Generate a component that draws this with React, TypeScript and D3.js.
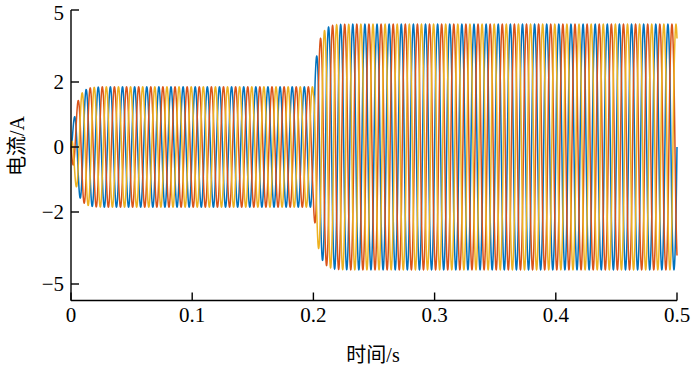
import React, { useEffect, useRef } from 'react';
import * as d3 from 'd3';

// three phase currents
const phaseNames = ['A', 'B', 'C'];
const phaseColors = ['#0072BD', '#D95319', '#EDB120'];
const phaseShiftsDeg = [0, -120, 120];
const freqHz = 100;
// amplitude steps: [start time, amplitude]
const stepTimes = [0, 0.2];
const stepAmps = [1.85, 4.4];
const riseTau = 0.004;
const tEnd = 0.5;

const xTicks = [0, 0.1, 0.2, 0.3, 0.4, 0.5];
const yTicks = [-5, -2, 0, 2, 5];
const yTickLabels = ['\u22125', '\u22122', '0', '2', '5'];

const W = 691;
const H = 372;

function amplitude(t: number) {
  let a = 0;
  let prev = 0;
  for (let i = 0; i < stepTimes.length; i++) {
    if (t >= stepTimes[i]) {
      const target = stepAmps[i];
      a = prev + (target - prev) * (1 - Math.exp(-(t - stepTimes[i]) / riseTau));
      prev = target;
    }
  }
  return a;
}

export default function App() {
  const ref = useRef<SVGSVGElement>(null);

  useEffect(() => {
    document.body.style.margin = '0';
    const svg = d3.select(ref.current);
    svg.selectAll('*').remove();

    const x = d3.scaleLinear().domain([0, tEnd]).range([71, 677]);
    // tick labels in the figure are not evenly spaced, so a polylinear scale
    const y = d3.scaleLinear().domain([-5.67, -5, -2, 2, 5]).range([300.5, 284, 212, 82, 10]);

    const n = 6000;
    const ts = d3.range(n + 1).map((i) => (i / n) * tEnd);

    const line = d3.line<[number, number]>()
      .x((d) => x(d[0]))
      .y((d) => y(d[1]));

    phaseNames.forEach((name, k) => {
      const phi = (phaseShiftsDeg[k] * Math.PI) / 180;
      const pts: [number, number][] = ts.map((t) => [t, amplitude(t) * Math.sin(2 * Math.PI * freqHz * t + phi)]);
      svg.append('path')
        .attr('class', `phase-${name}`)
        .attr('d', line(pts))
        .attr('fill', 'none')
        .attr('stroke', phaseColors[k])
        .attr('stroke-width', 1.5);
    });

    const font = '"Liberation Serif", "Times New Roman", serif';
    const axis = svg.append('g').attr('stroke', '#000').attr('stroke-width', 1.4).attr('fill', 'none');
    axis.append('line').attr('x1', 71).attr('x2', 71).attr('y1', y(5)).attr('y2', y(-5.67));
    axis.append('line').attr('x1', 71).attr('x2', 677).attr('y1', y(-5.67)).attr('y2', y(-5.67));

    yTicks.forEach((v, i) => {
      axis.append('line').attr('x1', 71).attr('x2', 79).attr('y1', y(v)).attr('y2', y(v));
      svg.append('text')
        .attr('x', 64).attr('y', Math.max(y(v), 13)).attr('dy', '0.35em')
        .attr('text-anchor', 'end')
        .style('font-family', font).style('font-size', '21px')
        .text(yTickLabels[i]);
    });

    xTicks.forEach((v) => {
      axis.append('line').attr('x1', x(v)).attr('x2', x(v)).attr('y1', y(-5.67)).attr('y2', y(-5.67) - 8);
      svg.append('text')
        .attr('x', x(v)).attr('y', 322)
        .attr('text-anchor', 'middle')
        .style('font-family', font).style('font-size', '21px')
        .text(String(v));
    });

    const cjk = '"Liberation Serif", "Noto Sans CJK SC", serif';
    svg.append('text')
      .attr('x', 373).attr('y', 362)
      .attr('text-anchor', 'middle')
      .style('font-family', cjk).style('font-size', '20px')
      .text('时间/s');
    svg.append('text')
      .attr('transform', `translate(24,146) rotate(-90)`)
      .attr('text-anchor', 'middle')
      .style('font-family', cjk).style('font-size', '20px')
      .text('电流/A');
  }, []);

  return <svg ref={ref} width={W} height={H} style={{ display: 'block', background: '#fff' }} />;
}
